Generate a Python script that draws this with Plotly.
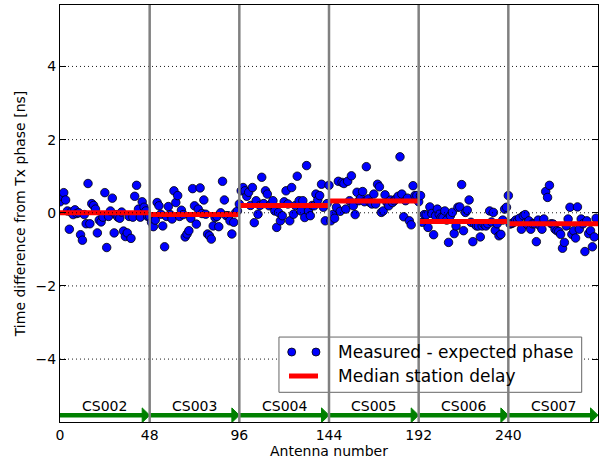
import plotly.graph_objects as go

# ---------------- data ----------------
station_names = ["CS002", "CS003", "CS004", "CS005", "CS006", "CS007"]
antennas_per_station = 48

cs002_phase = [0.30, 0.45, 0.55, 0.35, 0.05, -0.45, 0.02, -0.05, 0.08, -0.02,
               0.00, -0.60, -0.75, -0.05, -0.30, 0.80, -0.30, 0.25, 0.20, 0.10,
               -0.55, -0.20, -0.25, -0.12, 0.55, -0.95, -0.10, 0.05, 0.40, -0.55,
               -0.05, -0.12, -0.15, 0.02, -0.50, -0.65, -0.55, -0.10, -0.70, -0.12,
               0.45, 0.75, 0.10, -0.12, 0.30, 0.15, 0.05, -0.10]
cs003_phase = [-0.10, -0.26, -0.38, -0.20, 0.28, 0.19, -0.04, -0.36, -0.93, -0.10,
               0.17, -0.05, -0.17, 0.60, 0.28, 0.47, -0.10, 0.07, -0.05, -0.66,
               -0.58, -0.49, -0.15, 0.66, 0.19, -0.31, 0.10, 0.68, -0.02, 0.35,
               -0.04, -0.58, -0.63, -0.72, -0.36, -0.13, -0.10, -0.38, 0.00, 0.86,
               0.35, -0.08, -0.08, -0.22, -0.58, -0.26, 0.00, 0.05]
cs004_phase = [0.24, 0.60, 0.69, 0.60, 0.45, 0.56, 0.20, 0.69, -0.27, 0.33,
               -0.04, 0.20, 0.97, 0.25, 0.60, 0.51, 0.19, 0.24, 0.33, 0.05,
               -0.40, 0.01, -0.22, -0.08, 0.30, 0.60, 0.24, -0.22, 0.69, -0.04,
               0.20, 1.00, 0.33, 0.05, 0.33, -0.13, 1.29, 0.05, -0.08, 0.20,
               0.19, 0.51, 0.35, 0.47, 0.78, 0.15, -0.22, 0.25]
cs005_phase = [0.75, -0.22, -0.05, -0.15, 0.15, 0.86, 0.04, 0.83, 0.80, 0.10,
               0.86, 0.33, 1.01, 0.19, -0.05, 0.56, 0.33, 0.40, 0.58, 0.30,
               1.26, 0.38, 0.28, 0.24, 0.51, 0.24, 0.78, 0.71, 0.01, 0.05,
               0.49, 0.28, 0.19, 0.35, 0.28, 0.33, 0.38, 0.45, 1.53, 0.51,
               -0.11, 0.33, 0.40, -0.22, -0.33, 0.74, 0.47, 0.47]
cs006_phase = [0.30, 0.47, -0.26, -0.05, -0.06, -0.40, 0.16, -0.02, -0.60, -0.08,
               0.10, -0.04, -0.13, -0.13, 0.05, -0.20, -0.81, -0.08, 0.01, -0.57,
               -0.36, 0.15, 0.16, 0.77, -0.49, 0.01, 0.07, 0.35, -0.26, -0.79,
               -0.31, -0.36, -0.36, -0.66, -0.36, -0.31, -0.36, -0.30, 0.05, -0.25,
               0.01, -0.48, -0.30, -0.63, -0.59, -0.20, 0.10, 0.15]
cs007_phase = [0.47, -0.31, -0.29, -0.26, -0.20, -0.22, -0.15, -0.45, -0.08, -0.05,
               -0.31, -0.22, -0.45, -0.30, -0.30, -0.79, -0.20, -0.36, -0.45, -0.17,
               0.58, 0.42, 0.75, -0.30, -0.31, -0.45, -0.49, -0.51, -0.59, -0.97,
               -0.81, -0.36, -0.17, 0.15, -0.59, -0.49, -0.69, 0.16, -0.45, -0.17,
               -0.30, -1.06, -0.22, -0.57, -0.49, -0.93, -0.66, -0.15]
median_delay = [0.00, -0.05, 0.20, 0.32, -0.24, -0.30]

y_ticks = [-4, -2, 0, 2, 4]
x_range = [0, 288]
y_range = [-5.72, 5.68]

# ---------------- build ----------------
station_phases = [cs002_phase, cs003_phase, cs004_phase,
                  cs005_phase, cs006_phase, cs007_phase]
station_starts = [i * antennas_per_station for i in range(len(station_names))]
station_ends = [s + antennas_per_station for s in station_starts]

ant_x, ant_y = [], []
for s, vals in zip(station_starts, station_phases):
    for k, v in enumerate(vals):
        ant_x.append(s + k)
        ant_y.append(v)

FONT = "DejaVu Sans"
fig = go.Figure()

# measured points
fig.add_trace(go.Scatter(x=ant_x, y=ant_y, mode="markers",
                         marker=dict(color="#0000ff", size=8.5,
                                     line=dict(color="black", width=0.8)),
                         showlegend=False))

# median station delays (drawn on top of the points)
for s, e, m in zip(station_starts, station_ends, median_delay):
    fig.add_trace(go.Scatter(x=[s, e], y=[m, m], mode="lines",
                             line=dict(color="#ff0000", width=5),
                             showlegend=False, hoverinfo="skip"))

shapes = []
# dotted horizontal grid (drawn above data like the reference)
for yt in y_ticks:
    shapes.append(dict(type="line", xref="paper", yref="y", x0=0, x1=1, y0=yt, y1=yt,
                       line=dict(color="black", width=0.9, dash="1px,3px"), layer="above"))

# green arrows marking the stations
arrow_y = -5.535
head_len = 4.0
head_half = 0.2
for s, e in zip(station_starts, station_ends):
    shapes.append(dict(type="line", xref="x", yref="y", x0=s, x1=e - head_len + 0.5,
                       y0=arrow_y, y1=arrow_y,
                       line=dict(color="#008000", width=4.5), layer="above"))
    shapes.append(dict(type="path", xref="x", yref="y",
                       path=f"M {e - head_len},{arrow_y - head_half} L {e},{arrow_y} "
                            f"L {e - head_len},{arrow_y + head_half} Z",
                       fillcolor="#008000", line=dict(color="#008000", width=1),
                       layer="above"))

# legend box
lx0, lx1, ly0, ly1 = 0.407, 0.9697, 0.0712, 0.2037
shapes.append(dict(type="rect", xref="paper", yref="paper", x0=lx0, x1=lx1, y0=ly0, y1=ly1,
                   fillcolor="white", line=dict(color="#666666", width=1), layer="above"))

# station separators
for s in station_starts[1:]:
    shapes.append(dict(type="line", xref="x", yref="paper", x0=s, x1=s, y0=0, y1=1,
                       line=dict(color="#808080", width=2.5), layer="above"))

# legend glyphs
for gx in [0.4307, 0.4758]:
    shapes.append(dict(type="circle", xref="paper", yref="paper",
                       xsizemode="pixel", ysizemode="pixel", xanchor=gx, yanchor=0.1678,
                       x0=-4, x1=4, y0=-4, y1=4, fillcolor="#0000ff",
                       line=dict(color="black", width=0.8), layer="above"))
shapes.append(dict(type="line", xref="paper", yref="paper", x0=0.4257, x1=0.4796,
                   y0=0.1103, y1=0.1103, line=dict(color="#ff0000", width=5),
                   layer="above"))

annotations = []
for name, s, e in zip(station_names, station_starts, station_ends):
    annotations.append(dict(x=(s + e) / 2, y=-5.29, xref="x", yref="y", text=name,
                            showarrow=False, yanchor="middle",
                            font=dict(family=FONT, size=14, color="black")))
annotations.append(dict(x=0.5124, y=0.1678, xref="paper", yref="paper",
                        text="Measured - expected phase", showarrow=False,
                        xanchor="left", yanchor="middle",
                        font=dict(family=FONT, size=17, color="black")))
annotations.append(dict(x=0.5124, y=0.1103, xref="paper", yref="paper",
                        text="Median station delay", showarrow=False,
                        xanchor="left", yanchor="middle",
                        font=dict(family=FONT, size=17, color="black")))

fig.update_layout(
    width=611, height=466,
    margin=dict(l=60, r=13, t=5, b=44, autoexpand=False),
    paper_bgcolor="white", plot_bgcolor="white",
    font=dict(family=FONT, size=14, color="black"),
    shapes=shapes, annotations=annotations, showlegend=False,
)
fig.update_xaxes(range=x_range, tickvals=station_starts, automargin=False,
                 ticks="inside", ticklen=6, tickcolor="black",
                 showline=True, linecolor="black", linewidth=1, mirror="ticks",
                 showgrid=False, zeroline=False,
                 tickfont=dict(family=FONT, size=14, color="black"),
                 title=dict(text="Antenna number", standoff=4,
                            font=dict(family=FONT, size=14, color="black")))
fig.update_yaxes(range=y_range, tickvals=y_ticks, automargin=False,
                 ticks="inside", ticklen=6, tickcolor="black",
                 showline=True, linecolor="black", linewidth=1, mirror="ticks",
                 showgrid=False, zeroline=False,
                 tickfont=dict(family=FONT, size=14, color="black"),
                 title=dict(text="Time difference from Tx phase [ns]", standoff=6,
                            font=dict(family=FONT, size=14, color="black")))

fig.write_html("out.html", config={"displayModeBar": False},
               post_script="document.body.style.margin='0px';"
                           "document.body.style.overflow='hidden';")
